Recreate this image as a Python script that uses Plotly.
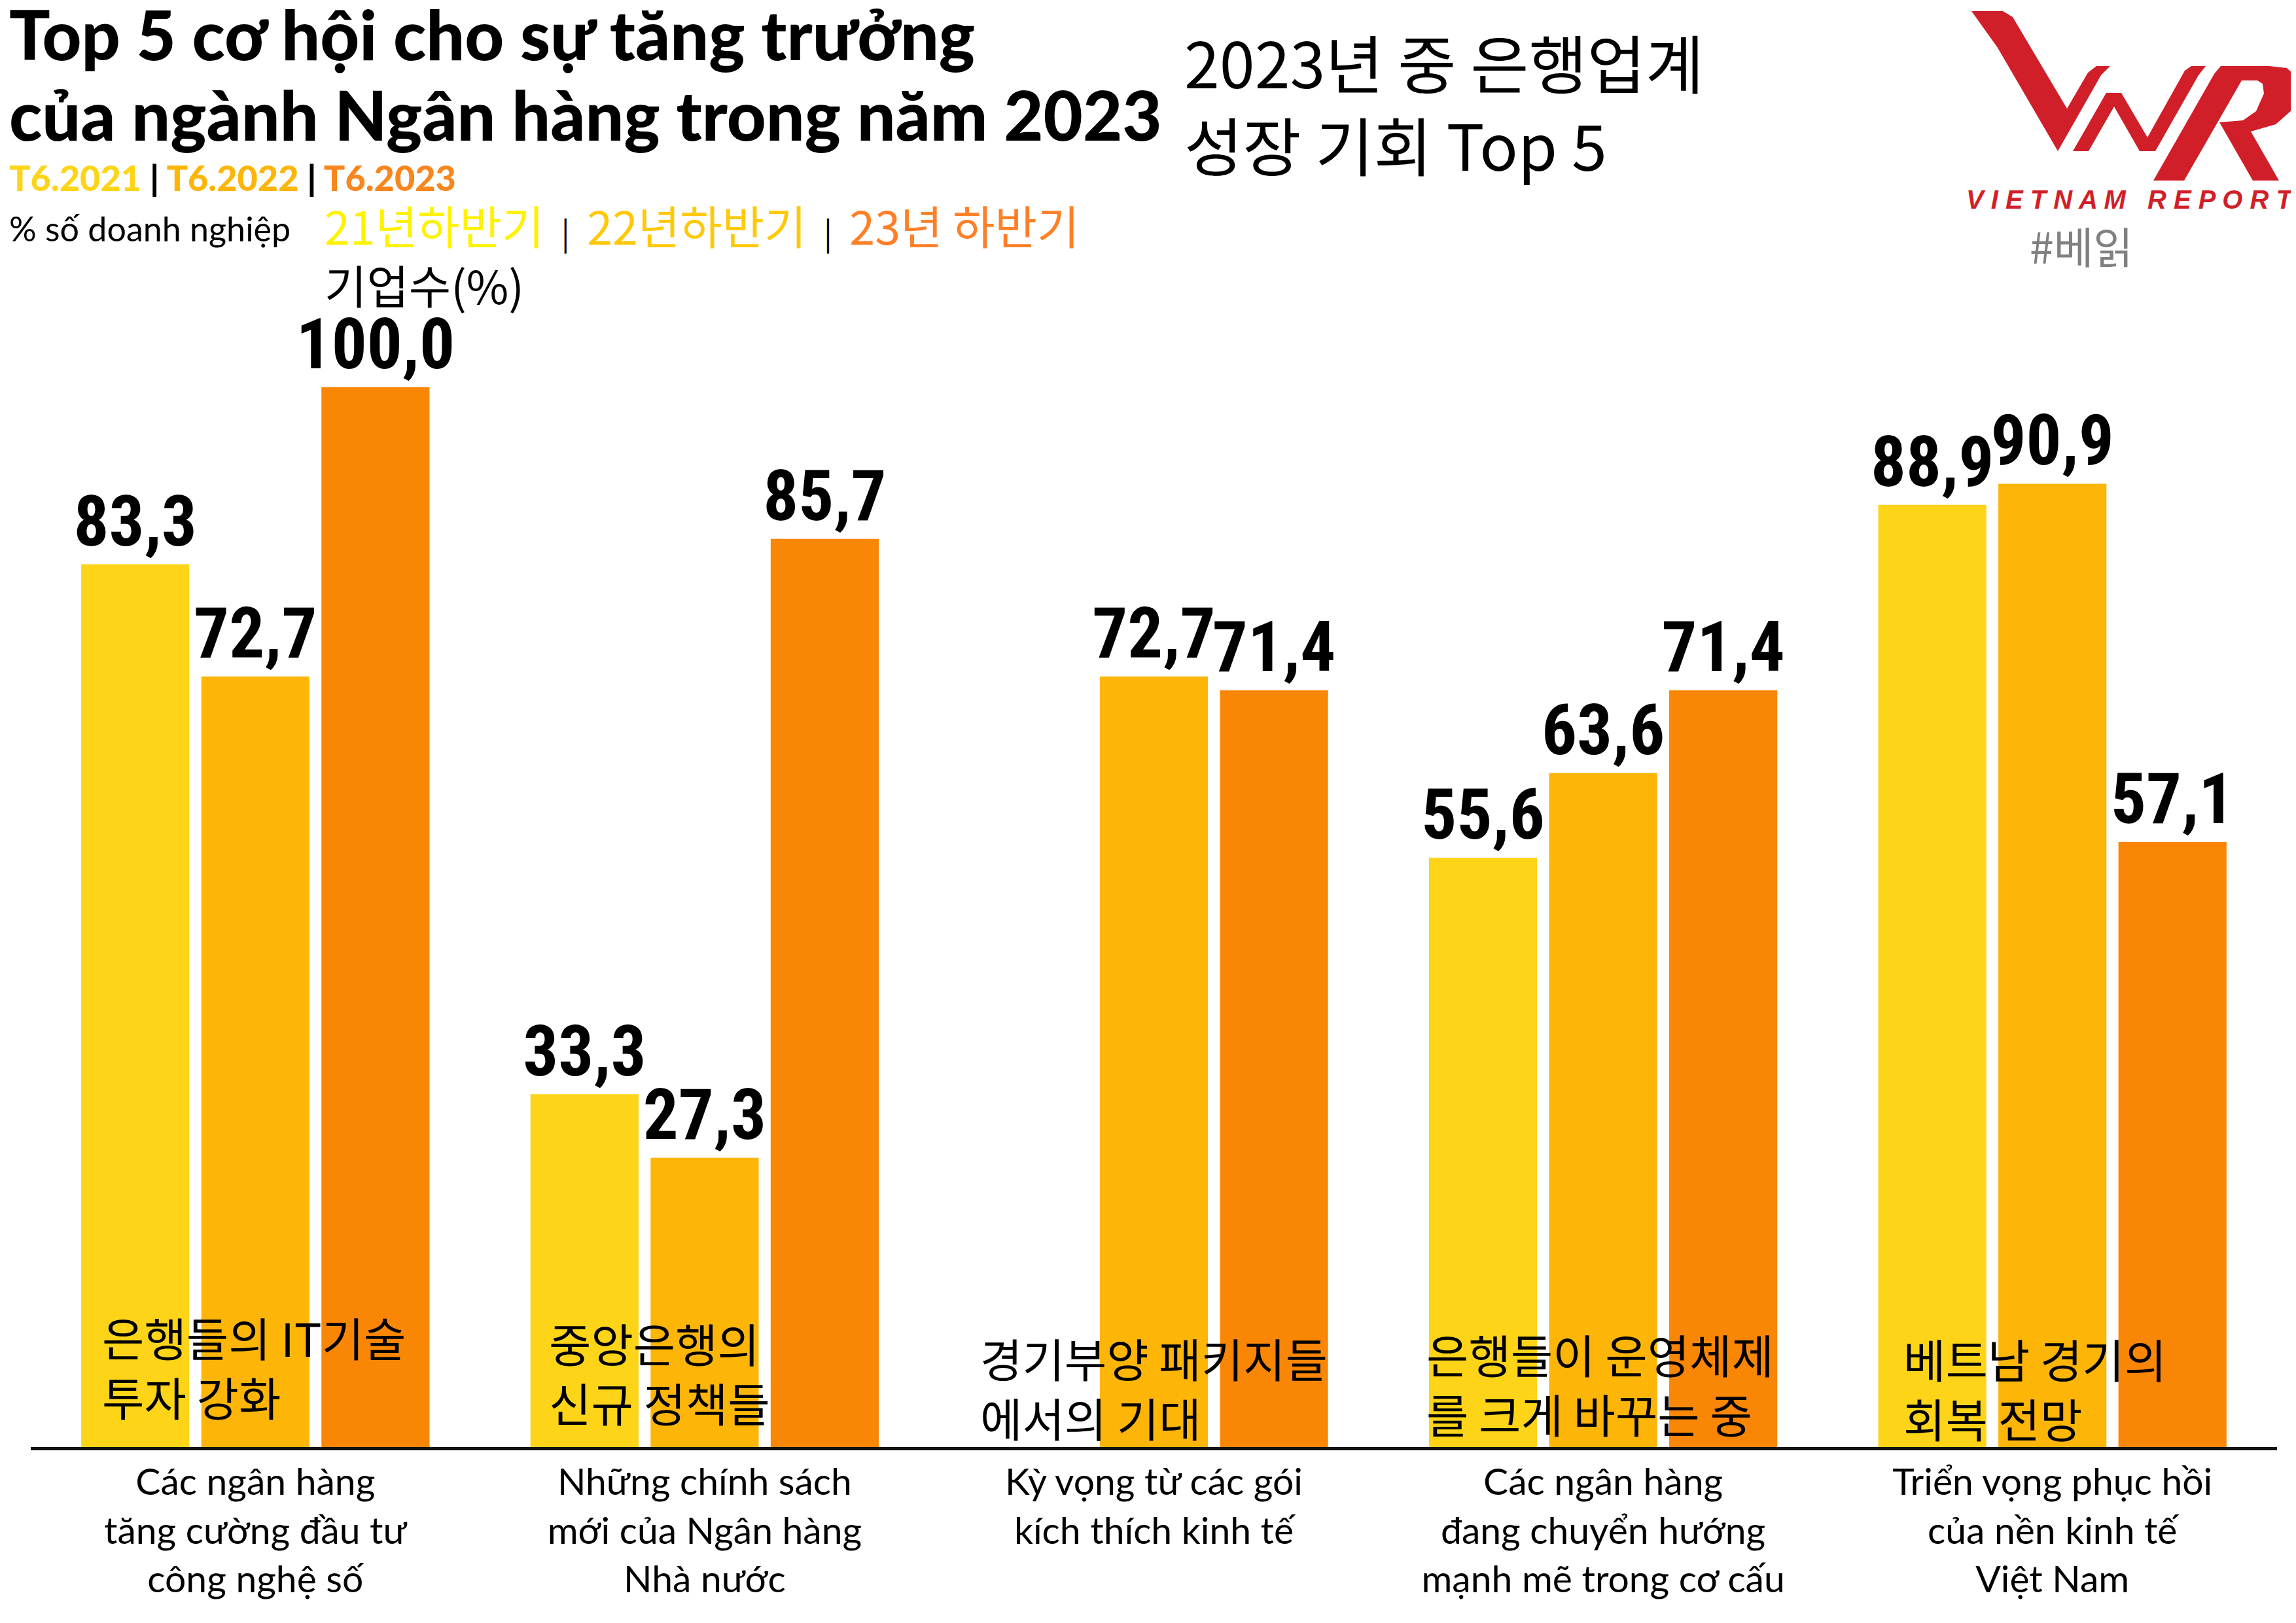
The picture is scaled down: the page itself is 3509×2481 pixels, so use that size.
import plotly.graph_objects as go

# ---------------- data ----------------
CATEGORIES_VN = [
    "Các ngân hàng<br>tăng cường đầu tư<br>công nghệ số",
    "Những chính sách<br>mới của Ngân hàng<br>Nhà nước",
    "Kỳ vọng từ các gói<br>kích thích kinh tế",
    "Các ngân hàng<br>đang chuyển hướng<br>mạnh mẽ trong cơ cấu",
    "Triển vọng phục hồi<br>của nền kinh tế<br>Việt Nam",
]
CATEGORIES_KR = [
    "은행들의 IT기술<br>투자 강화",
    "중앙은행의<br>신규 정책들",
    "경기부양 패키지들<br>에서의 기대",
    "은행들이 운영체제<br>를 크게 바꾸는 중",
    "베트남 경기의<br>회복 전망",
]
SERIES_NAMES = ["T6.2021", "T6.2022", "T6.2023"]
S2021 = [83.3, 33.3, None, 55.6, 88.9]
S2022 = [72.7, 27.3, 72.7, 63.6, 90.9]
S2023 = [100.0, 85.7, 71.4, 71.4, 57.1]

# ---------------- layout constants ----------------
W, H = 3509, 2481
L, R, T, B = 39, 37, 260, 277
PW, PH = W - L - R, H - T - B
COLORS = ["#FDD418", "#FDB508", "#FA8605"]


def px(x):
    return (x - L) / PW


def py(y):
    return (H - B - y) / PH


def fmt(v):
    return "" if v is None else f"{v:.1f}".replace(".", ",")


NUM_FONT = "Roboto Condensed, Liberation Sans Narrow, DejaVu Sans Condensed, sans-serif"
KR_FONT = "Noto Sans CJK KR, sans-serif"
LAT_FONT = "Lato, Open Sans, sans-serif"
TITLE_FONT = "Lato Black, Lato Heavy, Lato, Open Sans, sans-serif"

fig = go.Figure()
for name, vals, col in zip(SERIES_NAMES, [S2021, S2022, S2023], COLORS):
    fig.add_trace(go.Bar(
        x=CATEGORIES_VN, y=vals, name=name,
        marker=dict(color=col, line=dict(width=0)),
        text=[fmt(v) for v in vals], textposition="outside",
        textfont=dict(family=NUM_FONT, size=107, color="black", weight="bold"),
        constraintext="none", cliponaxis=False, showlegend=False,
    ))

ann = []


def add_text(text, x, y, size, color="black", family=LAT_FONT, weight="normal",
             xanchor="left", yanchor="middle", align="left", italic=False):
    ann.append(dict(
        text=text, x=px(x), y=py(y), xref="paper", yref="paper",
        xanchor=xanchor, yanchor=yanchor, align=align, showarrow=False,
        font=dict(family=family, size=size, color=color, weight=weight,
                  style="italic" if italic else "normal"),
    ))


NB = "\u00a0"
# titles
add_text("Top 5 cơ hội cho sự tăng trưởng", 4, 44, 104, family=TITLE_FONT, weight=900)
add_text("của ngành Ngân hàng trong năm 2023", 4, 167, 104, family=TITLE_FONT, weight=900)
sep = "<span style='color:black'> | </span>"
add_text(f"<span style='color:#FDD418'>T6.2021</span>{sep}"
         f"<span style='color:#FDB508'>T6.2022</span>{sep}"
         f"<span style='color:#F7861E'>T6.2023</span>",
         4, 263, 54, family=TITLE_FONT, weight="bold")
add_text("% số doanh nghiệp", 4, 341, 52)
ksep = f"{NB}<span style='color:black;font-size:48px'>{NB}|{NB}</span>{NB}"
add_text(f"<span style='color:#FFF200'>21년하반기</span>{ksep}"
         f"<span style='color:#FFC90A'>22년하반기</span>{ksep}"
         f"<span style='color:#FF7F27'>23년 하반기</span>"
         f"<br>기업수(%)",
         486, 381, 70, family=KR_FONT)
add_text("2023년 중 은행업계<br>성장 기회 Top 5", 1800, 147, 97, family=KR_FONT)

# logo text
add_text("V I E T N A M   R E P O R T", 3500, 297, 40, color="#D11F29",
         family="Liberation Sans, Arial, sans-serif", weight="bold",
         xanchor="right", italic=True)
add_text("#베읽", 3092, 366, 66, color="#808080", family=KR_FONT)

# korean category notes inside bars
KR_XSHIFT = [-236, -240, -268, -272, -230]
KR_YCENTER = [2081, 2090, 2113, 2107, 2114]
for cat, kr, dx, yc in zip(CATEGORIES_VN, CATEGORIES_KR, KR_XSHIFT, KR_YCENTER):
    ann.append(dict(
        text=kr, x=cat, xref="x", y=py(yc), yref="paper", xshift=dx,
        xanchor="left", yanchor="middle", align="left", showarrow=False,
        font=dict(family=KR_FONT, size=70, color="black"),
    ))

# logo shapes
V_PTS = [(3005, 9), (3053, 9), (3068, 18), (3151, 158), (3183, 103), (3196, 93),
         (3217, 93), (3203, 107), (3137, 223), (3045, 65)]
N_PTS = [(3160, 223), (3184, 223), (3223, 155), (3262, 223), (3286, 223),
         (3352, 107), (3363, 93), (3341, 93), (3331, 100), (3274, 202),
         (3234, 134), (3211, 134)]
R_PTS = [(3283, 268), (3376, 105), (3386, 93), (3460, 93), (3487, 96),
         (3502, 110), (3504, 135), (3495, 160), (3470, 182), (3432, 193),
         (3475, 268), (3435, 268), (3384, 179), (3420, 176), (3440, 162),
         (3452, 135), (3450, 120), (3442, 115), (3418, 115), (3330, 268)]


def path_of(pts):
    return "M " + " L ".join(f"{px(x):.5f},{py(y):.5f}" for x, y in pts) + " Z"


shapes = [dict(type="path", xref="paper", yref="paper", path=path_of(p),
               fillcolor="#D11F29", line=dict(width=0), layer="above")
          for p in (V_PTS, N_PTS, R_PTS)]

fig.update_layout(
    width=W, height=H,
    margin=dict(l=L, r=R, t=T, b=B, pad=0),
    paper_bgcolor="white", plot_bgcolor="white",
    barmode="group", bargap=0.198, bargroupgap=0.10,
    annotations=ann, shapes=shapes,
    xaxis=dict(
        showgrid=False, zeroline=False, showline=True, linecolor="#111111",
        linewidth=5, ticks="", ticklabelstandoff=0,
        tickfont=dict(family=LAT_FONT, size=57, color="black"),
        range=[-0.5, 4.5],
    ),
    yaxis=dict(range=[0, 120], visible=False, showgrid=False, zeroline=False),
)

fig.write_html("out.html")
